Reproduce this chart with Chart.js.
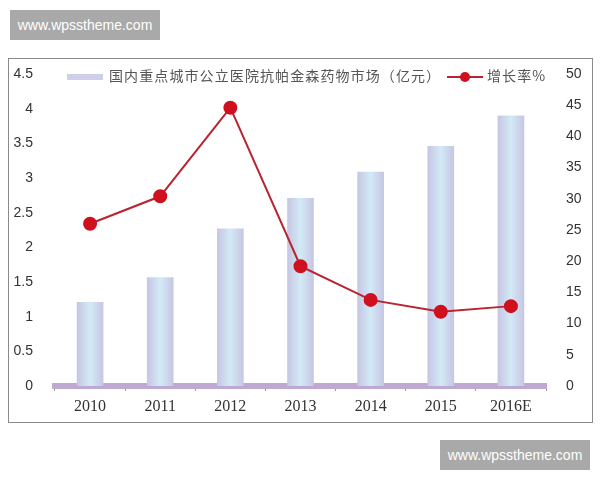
<!DOCTYPE html>
<html>
<head>
<meta charset="utf-8">
<script src="https://cdn.jsdelivr.net/npm/chart.js@4"></script>
<style>
  body { margin: 0; background: #fff; width: 600px; height: 480px; position: relative; overflow: hidden; font-family: "Noto Sans CJK SC", sans-serif; }
  .mark { position: absolute; width: 150px; height: 30px; background: #a9a9a9; color: #fff; font: 14px "Liberation Sans", sans-serif; line-height: 30px; text-align: center; }
  #frame { position: absolute; left: 8px; top: 58px; width: 583px; height: 363px; border: 1px solid #8a8a8a; }
  #box { position: absolute; left: 0; top: 0; width: 583px; height: 363px; }
  .legend { position: absolute; top: 66px; height: 18px; line-height: 18px; font-size: 14px; color: #555; white-space: nowrap; letter-spacing: 1.1px; }
</style>
</head>
<body>
<div class="mark" style="left:10px;top:10px;">www.wpsstheme.com</div>
<div class="mark" style="left:440px;top:440px;">www.wpsstheme.com</div>
<div id="frame"><div id="box"><canvas id="chart"></canvas></div></div>
<div class="legend" style="left:67px;">
  <span style="display:inline-block;width:36px;height:6px;background:#cdd0e8;vertical-align:middle;margin-right:6px;"></span>国内重点城市公立医院抗帕金森药物市场（亿元）
</div>
<div class="legend" style="left:447px;">
  <span style="display:inline-block;position:relative;width:36px;height:18px;vertical-align:middle;margin-right:4px;">
    <span style="position:absolute;left:0;top:8px;width:36px;height:2px;background:#b8242f;"></span>
    <span style="position:absolute;left:13px;top:4px;width:10px;height:10px;border-radius:50%;background:#d0101e;"></span>
  </span>增长率%
</div>
<script>
const years = ['2010', '2011', '2012', '2013', '2014', '2015', '2016E'];
const marketSize = [1.21, 1.57, 2.27, 2.71, 3.09, 3.46, 3.9];
const growthRate = [26, 30.4, 44.6, 19.2, 13.8, 11.9, 12.8];
const leftTicks = [0, 0.5, 1, 1.5, 2, 2.5, 3, 3.5, 4, 4.5];
const rightTicks = [0, 5, 10, 15, 20, 25, 30, 35, 40, 45, 50];

function barFill(ctx) {
  const chart = ctx.chart;
  if (!chart.chartArea || !chart.scales.x) return '#cdd0e8';
  const x = chart.scales.x.getPixelForValue(ctx.dataIndex);
  const half = 14;
  const g = chart.ctx.createLinearGradient(x - half, 0, x + half, 0);
  g.addColorStop(0, '#c6c3e2');
  g.addColorStop(0.5, '#d2eaf6');
  g.addColorStop(1, '#c6c3e2');
  return g;
}

const tickFont = { family: "'Liberation Sans Narrow', 'Liberation Sans', sans-serif", size: 14 };

// side axes: fixed width, and no extra vertical padding from tick spacing
function fitSide(s) {
  s.width = 46;
  s.paddingTop = 0;
  s.paddingBottom = 0;
}

new Chart(document.getElementById('chart'), {
  data: {
    labels: years,
    datasets: [
      {
        type: 'line',
        label: '增长率%',
        data: growthRate,
        yAxisID: 'y1',
        borderColor: '#b8242f',
        borderWidth: 2,
        pointBackgroundColor: '#d0101e',
        pointBorderColor: '#d0101e',
        pointRadius: 6,
        tension: 0,
        order: 1,
      },
      {
        type: 'bar',
        label: '国内重点城市公立医院抗帕金森药物市场（亿元）',
        data: marketSize,
        yAxisID: 'y',
        backgroundColor: barFill,
        barPercentage: 0.38,
        categoryPercentage: 1,
        order: 2,
      },
    ],
  },
  options: {
    responsive: true,
    maintainAspectRatio: false,
    animation: false,
    layout: { padding: { top: 15, left: 0, right: 0, bottom: 0 } },
    plugins: { legend: { display: false }, tooltip: { enabled: false } },
    scales: {
      x: {
        offset: true,
        grid: { display: true, drawOnChartArea: false, offset: true, tickLength: 5, color: '#999' },
        border: { display: true, color: '#bda9d2', width: 6 },
        ticks: { color: '#333', font: { family: 'Liberation Serif', size: 16 }, padding: 6 },
        afterFit: (s) => { s.height = 36; },
      },
      y: {
        position: 'left',
        min: 0,
        max: 4.5,
        afterBuildTicks: (s) => { s.ticks = leftTicks.map((v) => ({ value: v })); },
        grid: { display: false },
        border: { display: false },
        ticks: { color: '#333', font: tickFont, padding: 14, callback: (v) => String(v) },
        afterFit: fitSide,
      },
      y1: {
        position: 'right',
        min: 0,
        max: 50,
        afterBuildTicks: (s) => { s.ticks = rightTicks.map((v) => ({ value: v })); },
        grid: { display: false },
        border: { display: false },
        ticks: { color: '#333', font: tickFont, padding: 12, callback: (v) => String(v) },
        afterFit: fitSide,
      },
    },
  },
});
</script>
</body>
</html>
